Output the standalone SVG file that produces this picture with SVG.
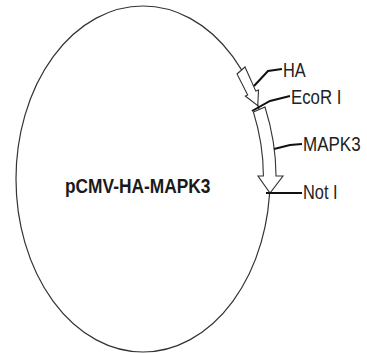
<svg xmlns="http://www.w3.org/2000/svg" width="367" height="353" viewBox="0 0 367 353">
<style>
.bb{fill:none;stroke:#333;stroke-width:1.2}
.feat{fill:#fff;stroke:#333;stroke-width:1.1;stroke-linejoin:miter}
.lead{fill:none;stroke:#111;stroke-width:2}
.lbl{font-family:"Liberation Sans",Arial,sans-serif;font-size:21px;fill:#222}
.title{font-family:"Liberation Sans",Arial,sans-serif;font-size:19.5px;font-weight:bold;fill:#1a1a1a}
</style>
<rect width="367" height="353" fill="#fff"/>
<g id="backbone">
<ellipse class="bb" cx="143" cy="179" rx="127" ry="173"/>
</g>
<g id="title">
<text class="title" transform="translate(65,193) scale(0.89,1)">pCMV-HA-MAPK3</text>
</g>
<g id="HA">
<path class="feat" d="M237,74 L245,67 L255.8,91.1 L258.5,90 L257.8,105.6 L245.3,96 L247.7,94.9 Z"/>
<text class="lbl" transform="translate(283,77) scale(0.78,1)">HA</text>
</g>
<g id="MAPK3">
<path class="feat" d="M253.4,112 L265,107 Q276,142 276,176 L283,176 L270,193 L258,176 L263.4,176 Q263.4,144 253.4,112 Z"/>
<text class="lbl" transform="translate(303,151) scale(0.81,1)">MAPK3</text>
</g>
<g id="EcoRI">
<text class="lbl" transform="translate(291,104) scale(0.8,1)">EcoR I</text>
</g>
<g id="NotI">
<text class="lbl" transform="translate(303,199) scale(0.78,1)">Not I</text>
</g>
<g id="connectors">
<path class="lead" d="M254,86 L268,71 L282,69"/>
<path class="lead" d="M252,111 L270,101 L290,96"/>
<path class="lead" d="M274,149 L290,145 L302,144"/>
<path class="lead" d="M266,193 L302,193"/>
</g>
</svg>
